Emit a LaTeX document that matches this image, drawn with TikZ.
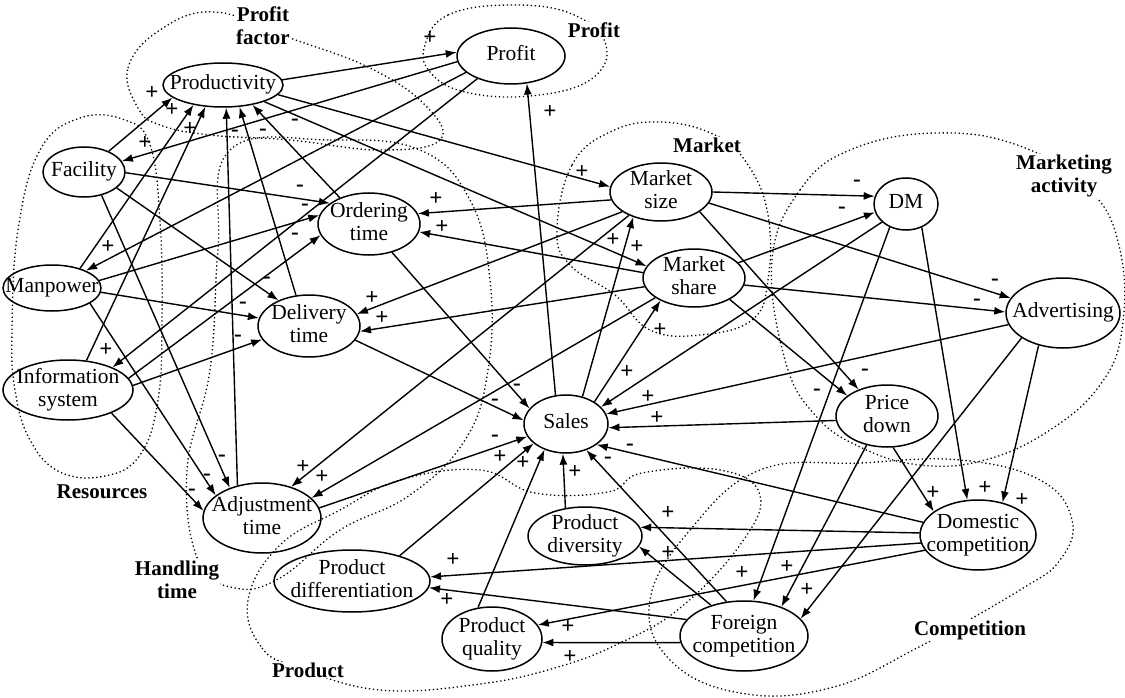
\documentclass[tikz,border=0pt]{standalone}
\usepackage{fontspec}
\setmainfont{Liberation Serif}
\usetikzlibrary{shapes.geometric,arrows.meta}
\newcommand\nl[1]{\makebox[0pt]{\raisebox{-0.25em}[0pt][0pt]{\begin{tabular}{@{}c@{}}#1\end{tabular}}}}
\begin{document}
\begin{tikzpicture}[x=1pt,y=-1pt,
 v/.style={ellipse,draw,line width=1.5pt,inner sep=0pt,font=\fontsize{21.5}{23}\selectfont},
 e/.style={-{Latex[length=11pt,width=8pt]},line width=1.4pt},
 pm/.style={font=\fontsize{23}{23}\selectfont\bfseries,inner sep=0pt},
 cl/.style={line width=1.3pt,dash pattern=on 1.3pt off 2.7pt},
 cn/.style={font=\fontsize{21}{23}\selectfont\bfseries,align=center,inner sep=1pt,fill=white}]
\useasboundingbox (0,0) rectangle (1125,698);
% clusters
\draw[cl] plot[smooth cycle,tension=0.7] coordinates {(138,108) (128,68) (160,30) (215,12) (290,38) (370,68) (425,105) (440,140) (380,150) (290,140) (210,135) (160,125)};
\draw[cl] plot[smooth cycle,tension=0.7] coordinates {(425,45) (448,15) (510,5) (572,14) (606,45) (590,80) (530,96) (465,92) (430,72)};
\draw[cl] plot[smooth cycle,tension=0.7] coordinates {(557,230) (572,165) (610,132) (660,122) (715,135) (748,165) (768,215) (768,280) (752,320) (700,335) (650,330) (615,295) (570,265)};
\draw[cl] plot[smooth cycle,tension=0.7] coordinates {(772,260) (800,190) (850,150) (935,133) (1020,146) (1090,190) (1120,250) (1122,330) (1100,385) (1050,430) (985,460) (920,465) (860,447) (815,415) (785,360)};
\draw[cl] plot[smooth cycle,tension=0.7] coordinates {(12,330) (18,230) (40,150) (80,118) (125,120) (150,145) (160,220) (162,320) (158,400) (140,455) (105,476) (60,472) (30,440) (15,390)};
\draw[cl] plot[smooth cycle,tension=0.7] coordinates {(230,150) (330,140) (420,150) (470,200) (490,280) (488,370) (465,440) (410,495) (340,530) (280,578) (235,588) (198,560) (187,470) (210,370) (218,250)};
\draw[cl] plot[smooth cycle,tension=0.7] coordinates {(248,600) (262,648) (300,668) (380,690) (480,684) (558,667) (620,643) (680,608) (740,545) (760,495) (720,470) (642,473) (608,492) (535,493) (480,470) (400,480) (340,510) (280,545)};
\draw[cl] plot[smooth cycle,tension=0.7] coordinates {(650,600) (690,530) (760,470) (860,463) (960,460) (1040,480) (1072,520) (1060,560) (1020,590) (917,648) (830,688) (740,693) (670,660)};
% cluster labels
\node[cn] (cpf) at (263,26) {Profit\\factor};
\node[cn] (cpr) at (594,30) {Profit};
\node[cn] (cmk) at (707,145) {Market};
\node[cn] (cma) at (1064,176) {Marketing\\activity};
\node[cn] (crs) at (102,492) {Resources};
\node[cn] (cht) at (177,580) {Handling\\time};
\node[cn] (cpd) at (308,670) {Product};
\node[cn] (ccp) at (970,630) {Competition};
% nodes
\node[v,minimum width=120pt,minimum height=44pt] (prod) at (223,85) {\nl{Productivity}};
\node[v,minimum width=108pt,minimum height=56pt] (profit) at (511,56) {\nl{Profit}};
\node[v,minimum width=82pt,minimum height=50pt] (fac) at (84,172) {\nl{Facility}};
\node[v,minimum width=102pt,minimum height=58pt] (msize) at (661,192) {\nl{Market\\size}};
\node[v,minimum width=64pt,minimum height=52pt] (dm) at (906,204) {\nl{DM}};
\node[v,minimum width=102pt,minimum height=62pt] (ord) at (369,224) {\nl{Ordering\\time}};
\node[v,minimum width=102pt,minimum height=58pt] (mshare) at (694,278) {\nl{Market\\share}};
\node[v,minimum width=114pt,minimum height=70pt] (adv) at (1063,313) {\nl{Advertising}};
\node[v,minimum width=98pt,minimum height=46pt] (man) at (52,288) {\nl{Manpower}};
\node[v,minimum width=102pt,minimum height=62pt] (del) at (309,326) {\nl{Delivery\\time}};
\node[v,minimum width=130pt,minimum height=60pt] (info) at (68,390) {\nl{Information\\system}};
\node[v,minimum width=84pt,minimum height=58pt] (sales) at (566,424) {\nl{Sales}};
\node[v,minimum width=102pt,minimum height=62pt] (price) at (887,416) {\nl{Price\\down}};
\node[v,minimum width=118pt,minimum height=70pt] (adj) at (262,518) {\nl{Adjustment\\time}};
\node[v,minimum width=114pt,minimum height=58pt] (pdiv) at (585,536) {\nl{Product\\diversity}};
\node[v,minimum width=156pt,minimum height=62pt] (pdif) at (352,581) {\nl{Product\\differentiation}};
\node[v,minimum width=100pt,minimum height=64pt] (pq) at (492,639) {\nl{Product\\quality}};
\node[v,minimum width=128pt,minimum height=70pt] (forn) at (744,636) {\nl{Foreign\\competition}};
\node[v,minimum width=116pt,minimum height=70pt] (dom) at (978,535) {\nl{Domestic\\competition}};
% edges
\draw[e] (prod.5) -- (profit.176);
\draw[e] (profit.186) -- (fac.16);
\draw[e] (profit.200) -- (man.27);
\draw[e] (profit.214) -- (info.27);
\draw[e] (fac.40) -- (prod.194);
\draw[e] (man.35) -- (prod.214);
\draw[e] (info.58) -- (prod.231);
\draw[e] (ord.138) -- (prod.326);
\draw[e] (del.113) -- (prod.307);
\draw[e] (adj.127) -- (prod.278);
\draw[e] (prod.350) -- (msize.174);
\draw[e] (prod.338) -- (mshare.166);
\draw[e] (fac.-1) -- (ord.152);
\draw[e] (man.9) -- (ord.170);
\draw[e] (info.11) -- (ord.193);
\draw[e] (fac.334) -- (del.140);
\draw[e] (man.-5) -- (del.171);
\draw[e] (info.4) -- (del.196);
\draw[e] (fac.307) -- (adj.137);
\draw[e] (man.338) -- (adj.154);
\draw[e] (info.332) -- (adj.173);
\draw[e] (msize.189) -- (ord.12);
\draw[e] (mshare.174) -- (ord.351);
\draw[e] (msize.207) -- (del.14);
\draw[e] (mshare.190) -- (del.354);
\draw[e] (msize.216) -- (adj.47);
\draw[e] (mshare.207) -- (adj.22);
\draw[e] (ord.309) -- (sales.157);
\draw[e] (del.343) -- (sales.175);
\draw[e] (adj.10) -- (sales.198);
\draw[e] (sales.110) -- (profit.300);
\draw[e] (sales.59) -- (msize.222);
\draw[e] (sales.38) -- (mshare.214);
\draw[e] (msize.0) -- (dm.166);
\draw[e] (mshare.19) -- (dm.195);
\draw[e] (msize.347) -- (adv.164);
\draw[e] (mshare.352) -- (adv.179);
\draw[e] (msize.333) -- (price.137);
\draw[e] (mshare.329) -- (price.153);
\draw[e] (dm.217) -- (sales.26);
\draw[e] (adv.192) -- (sales.14);
\draw[e] (price.185) -- (sales.355);
\draw[e] (dom.167) -- (sales.326);
\draw[e] (forn.117) -- (sales.308);
\draw[e] (pdif.28) -- (sales.211);
\draw[e] (pq.114) -- (sales.230);
\draw[e] (pdiv.125) -- (sales.264);
\draw[e] (dm.235) -- (forn.75);
\draw[e] (price.235) -- (forn.38);
\draw[e] (adv.211) -- (forn.17);
\draw[e] (dm.304) -- (dom.107);
\draw[e] (price.281) -- (dom.152);
\draw[e] (adv.233) -- (dom.53);
\draw[e] (dom.178) -- (pdiv.9);
\draw[e] (forn.137) -- (pdiv.349);
\draw[e] (dom.188) -- (pdif.3);
\draw[e] (forn.164) -- (pdif.355);
\draw[e] (dom.196) -- (pq.17);
\draw[e] (forn.186) -- (pq.356);
% signs
\node[pm] (s1) at (430,38) {+};
\node[pm] (s2) at (145,143) {+};
\node[pm] (s3) at (108,247) {+};
\node[pm] (s4) at (106,350) {+};
\node[pm] (s5) at (152,93) {+};
\node[pm] (s6) at (172,110) {+};
\node[pm] (s7) at (190,129) {+};
\node[pm] (s8) at (235,133) {-};
\node[pm] (s9) at (263,132) {-};
\node[pm] (s10) at (295,122) {-};
\node[pm] (s11) at (582,172) {+};
\node[pm] (s12) at (613,240) {+};
\node[pm] (s13) at (637,247) {+};
\node[pm] (s14) at (660,330) {+};
\node[pm] (s15) at (550,112) {+};
\node[pm] (s16) at (300,188) {-};
\node[pm] (s17) at (305,207) {-};
\node[pm] (s18) at (295,236) {-};
\node[pm] (s19) at (267,280) {-};
\node[pm] (s20) at (243,305) {-};
\node[pm] (s21) at (238,338) {-};
\node[pm] (s22) at (222,458) {-};
\node[pm] (s23) at (207,477) {-};
\node[pm] (s24) at (192,492) {-};
\node[pm] (s25) at (436,199) {+};
\node[pm] (s26) at (442,227) {+};
\node[pm] (s27) at (372,298) {+};
\node[pm] (s28) at (382,318) {+};
\node[pm] (s29) at (303,467) {+};
\node[pm] (s30) at (322,477) {+};
\node[pm] (s31) at (517,387) {-};
\node[pm] (s32) at (495,402) {-};
\node[pm] (s33) at (495,438) {-};
\node[pm] (s34) at (500,457) {+};
\node[pm] (s35) at (523,463) {+};
\node[pm] (s36) at (575,472) {+};
\node[pm] (s37) at (608,460) {-};
\node[pm] (s38) at (630,447) {-};
\node[pm] (s39) at (657,418) {+};
\node[pm] (s40) at (648,397) {+};
\node[pm] (s41) at (627,372) {+};
\node[pm] (s42) at (857,183) {-};
\node[pm] (s43) at (842,210) {-};
\node[pm] (s44) at (995,282) {-};
\node[pm] (s45) at (977,302) {-};
\node[pm] (s46) at (865,372) {-};
\node[pm] (s47) at (817,392) {-};
\node[pm] (s48) at (742,573) {+};
\node[pm] (s49) at (787,567) {+};
\node[pm] (s50) at (807,590) {+};
\node[pm] (s51) at (985,488) {+};
\node[pm] (s52) at (933,493) {+};
\node[pm] (s53) at (1022,500) {+};
\node[pm] (s54) at (668,513) {+};
\node[pm] (s55) at (668,553) {+};
\node[pm] (s56) at (453,560) {+};
\node[pm] (s57) at (447,600) {+};
\node[pm] (s58) at (568,627) {+};
\node[pm] (s59) at (570,657) {+};
\end{tikzpicture}
\end{document}
